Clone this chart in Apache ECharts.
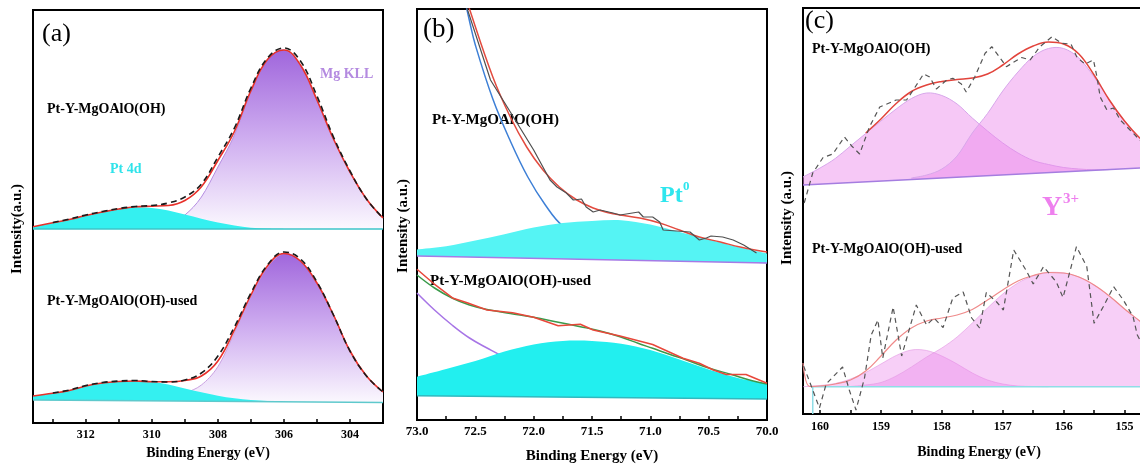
<!DOCTYPE html>
<html>
<head>
<meta charset="utf-8">
<script src="https://cdn.jsdelivr.net/npm/echarts@6/dist/echarts.min.js"></script>
<style>html,body{margin:0;padding:0;background:#fff}#chart{width:1140px;height:468px}</style>
</head>
<body>
<div id="chart"></div>
<script>
var serif = '"Liberation Serif", "Times New Roman", serif';

// (a) Pt 4d / Mg KLL  -- intensities in a.u. (stacked offset)
var aX = [313.6, 313, 312.5, 312, 311.5, 311, 310.5, 310, 309.5, 309, 308.5, 308, 307.5, 307, 306.5, 306, 305.5, 305, 304.5, 304, 303.5, 303];
var aTopPt4d = [196.3, 200.3, 203.5, 207.5, 211, 214, 215.7, 215, 212.5, 208.5, 204.3, 200.5, 197.5, 195.3, 194.4, 194, null, null, null, null, null, null];
var aTopMgKLL = [null, null, null, null, null, null, 194.5, 195.5, 199, 208, 226, 256, 288, 331, 363, 373, 358, 323, 284, 251, 224, 205];
var aTopFit = [196.3, 200.3, 203.5, 207.5, 211, 214, 216.2, 216.8, 217.5, 222.5, 236.3, 262.5, 291.5, 332.3, 363.4, 373, 358, 323, 284, 251, 224, 205];
var aTopRaw = [null, 200.5, 204, 208, 211.5, 214.5, 216.5, 217.5, 220, 226, 239, 266, 295, 335, 365, 375, 362, 327, 286, 252, 224, 205];
var aTopBase = [194, 194];
var aBotPt4d = [27, 29.7, 32.5, 37, 40, 41.5, 42, 41, 38.5, 34.5, 30.8, 27.3, 24.7, 23, 22, 21.5, null, null, null, null, null, null];
var aBotMgKLL = [null, null, null, null, null, null, null, 22.5, 25, 30, 38, 56.4, 90, 126.7, 156, 169.5, 162, 140, 108, 72, 47, 31];
var aBotFit = [27, 29.7, 32.5, 37, 40, 41.5, 42, 41.3, 41.3, 42.5, 47, 62, 93, 128, 157, 169.5, 162, 140, 108, 72, 47, 31];
var aBotRaw = [null, 30, 33, 37.5, 40.5, 42, 42.5, 41.5, 41, 43, 50, 67, 96, 130, 158, 171, 164, 141, 108, 72, 47, 31];
var aBotBase = [23, 20.5];

// (b) Pt 4f region
var bX = [73.0, 72.75, 72.5, 72.25, 72.0, 71.75, 71.5, 71.25, 71.0, 70.75, 70.5, 70.25, 70.0];
var bTopPt0 = [170.5, 173.7, 179.5, 185.7, 192.5, 197, 199, 199.8, 195.5, 188, 180.5, 173, 166.5];
var bTopBase = [164, 157];
var bTopBgX = [72.62, 72.55, 72.5, 72.35, 72.2, 72.05, 71.9, 71.75, 71.5, 71.25, 71.0, 70.5, 70.0];
var bTopBgY = [436, 399, 375, 321, 279, 243, 215, 194, 177, 168, 163, 159.5, 157.5];
var bTopFitX = [72.65, 72.55, 72.35, 72.2, 72.06, 71.92, 71.78, 71.63, 71.49, 71.35, 71.26, 71.09, 70.92, 70.75, 70.58, 70.4, 70.23, 70.0];
var bTopFitY = [448, 411, 343, 303, 273, 250, 233, 220, 212, 207, 205, 202, 197, 190, 183, 178, 173, 168];
var bTopRawX = [72.63, 72.58, 72.37, 72.2, 72.0, 71.86, 71.8, 71.72, 71.66, 71.59, 71.55, 71.49, 71.43, 71.32, 71.26, 71.1, 71.06, 70.98, 70.92, 70.89, 70.66, 70.63, 70.58, 70.52, 70.48, 70.38, 70.29, 70.2, 70.09];
var bTopRawY = [450, 415, 340, 308, 270, 240, 233, 227, 220, 221, 213, 208, 210, 207, 205, 208, 203, 203, 198, 190, 188, 185, 180, 182, 184, 183, 180, 175, 167];
var bBotPt0 = [43.3, 51, 59, 68.5, 75.5, 79, 79, 76.3, 70, 60.5, 50.5, 42, 36.3];
var bBotBase = [24.3, 21];
var bBotBgX = [73.0, 72.85, 72.7, 72.55, 72.4, 72.25, 72.0, 71.5, 71.0, 70.5, 70.0];
var bBotBgY = [127, 110, 95, 82, 72, 63, 52, 38, 30, 25, 22];
var bBotFitX = [73.0, 72.85, 72.7, 72.55, 72.4, 72.2, 72.0, 71.8, 71.6, 71.43, 71.26, 71.1, 70.98, 70.83, 70.69, 70.5, 70.29, 70.15, 70.0];
var bBotFitY = [145, 132, 122, 115, 110.5, 106.5, 102.7, 98, 93.3, 89, 83.3, 76.5, 71.7, 65.5, 60, 52, 45, 40, 36];
var bBotRawX = [73.0, 72.86, 72.69, 72.57, 72.4, 72.18, 72.0, 71.79, 71.6, 71.49, 71.26, 70.98, 70.72, 70.58, 70.46, 70.35, 70.18, 70.0];
var bBotRawY = [150.7, 136.7, 121.7, 117.3, 110, 107.3, 102.7, 94.3, 95.7, 90, 84, 75.5, 61.7, 56.7, 50, 45.5, 45.5, 36.7];

// (c) Y 3d region
var cX = [160.28, 160, 159.75, 159.5, 159.25, 159, 158.75, 158.5, 158.25, 158, 157.75, 157.5, 157.25, 157, 156.75, 156.5, 156.25, 156, 155.75, 155.5, 155.25, 155, 154.75, 154.5];
var cTopY1 = [237, 246, 255.5, 268, 280.5, 293, 305, 315.5, 321, 318.5, 310, 296, 283, 271, 261, 253.5, 249.5, 246.5, 245, 244.2, 244.4, null, null, null];
var cTopY2 = [null, null, null, null, null, null, null, 236, 239, 245, 258, 281, 300.5, 323, 342, 357.5, 365.5, 365.5, 356, 337, 314, 293, 276, 263];
var cTopFit = [null, null, null, null, 281, 295, 310.5, 322.5, 329, 332.5, 334.5, 336, 340, 349, 360, 368, 372, 370, 360, 339, 314, 293, 276, 263];
var cTopBaseX = [160.28, 154.5];
var cTopBaseY = [229, 246.7];
var cTopRawX = [160.26, 160.12, 159.95, 159.79, 159.6, 159.48, 159.35, 159.19, 159.02, 158.75, 158.58, 158.47, 158.3, 158.2, 158.09, 157.92, 157.82, 157.68, 157.6, 157.46, 157.29, 157.18, 157.05, 156.94, 156.83, 156.69, 156.55, 156.39, 156.19, 156.03, 155.88, 155.78, 155.65, 155.51, 155.45, 155.4, 155.29, 155.18, 155.07, 154.91, 154.75, 154.58];
var cTopRawY = [211, 241, 256.5, 260, 277, 268, 260, 287, 307, 314, 314, 324, 340, 337, 325, 334, 335.7, 330, 322, 337, 360.7, 367.3, 356.5, 347.3, 351.5, 356.5, 354, 367.3, 377.3, 370.7, 370, 356.5, 350, 354, 336, 317, 304, 306, 294, 284, 274, 266];
var cBotY1 = [27.3, 28.5, 30.5, 35, 41.5, 50, 58.5, 64, 63.5, 58, 50, 41, 34, 30, 28, 27.5, 27.3, null, null, null, null, null, null, null];
var cBotY2 = [null, null, null, 27.5, 29, 31.5, 38, 47, 57, 66, 77, 91, 106, 120, 131, 138, 141.5, 141, 137, 129, 118, 105, 93, 81];
var cBotBaseX = [160.12, 160.12, 154.5];
var cBotBaseY = [0, 27.3, 27.3];
var cBotFitX = [160.28, 160.17, 160, 159.75, 159.5, 159.25, 159, 158.75, 158.5, 158.25, 158, 157.75, 157.5, 157.25, 157, 156.75, 156.5, 156.25, 156, 155.75, 155.5, 155.25, 155, 154.75, 154.5];
var cBotFitY = [51, 27.5, 28, 30, 34, 43, 58, 74, 86, 93, 96, 99, 104.5, 114, 124, 133, 138.5, 141.5, 141, 137, 129, 118, 105, 93, 81];
var cBotRawX = [160.27, 160.12, 160.01, 159.9, 159.63, 159.52, 159.41, 159.27, 159.16, 159.05, 158.97, 158.8, 158.66, 158.42, 158.25, 158.13, 157.98, 157.82, 157.65, 157.51, 157.38, 157.27, 157.1, 156.99, 156.82, 156.61, 156.5, 156.33, 156.12, 156.01, 155.79, 155.62, 155.5, 155.35, 155.18, 155.02, 154.86, 154.79, 154.66];
var cBotRawY = [48, 24, 6, 30, 47, 24, 4, 36, 79, 94, 56, 107, 58, 109, 89, 96, 86.5, 116, 122, 96, 86, 121.5, 112, 104, 164, 143, 130, 147.3, 132, 116.5, 167.3, 147.3, 90.7, 107.3, 127.3, 114, 97.3, 79, 64];

function pairs(xs, ys) {
  var out = [];
  for (var i = 0; i < xs.length; i++) if (ys[i] != null) out.push([xs[i], ys[i]]);
  return out;
}
function fx(p) { return p[0].toFixed(2) + ',' + p[1].toFixed(2); }
// catmull-rom through the projected points
function curvePath(p) {
  var d = 'M' + fx(p[0]);
  for (var i = 0; i < p.length - 1; i++) {
    var p0 = p[i - 1] || p[i], p1 = p[i], p2 = p[i + 1], p3 = p[i + 2] || p2;
    d += 'C' + fx([p1[0] + (p2[0] - p0[0]) / 6, p1[1] + (p2[1] - p0[1]) / 6]) + ' ' +
      fx([p2[0] - (p3[0] - p1[0]) / 6, p2[1] - (p3[1] - p1[1]) / 6]) + ' ' + fx(p2);
  }
  return d;
}
// fitted component: area between the peak curve and its straight background
function band(k, xs, ys, base, fill, stroke) {
  var pts = pairs(xs, ys);
  return {
    type: 'custom', xAxisIndex: k, yAxisIndex: k, silent: true, clip: true, z: 2,
    data: pts,
    renderItem: function (params, api) {
      if (params.dataIndex !== 0) return;
      var p = pts.map(function (d) { return api.coord(d); });
      var b0 = api.coord([pts[0][0], base[0]]);
      var b1 = api.coord([pts[pts.length - 1][0], base[1]]);
      var top = curvePath(p);
      var kids = [{ type: 'path', shape: { pathData: top + 'L' + fx(b1) + 'L' + fx(b0) + 'Z' }, style: { fill: fill, stroke: 'none' } }];
      if (stroke) kids.push({ type: 'path', shape: { pathData: top }, style: { fill: 'none', stroke: stroke, lineWidth: 1 } });
      return { type: 'group', children: kids };
    }
  };
}
// z 1: background curves that pass under a filled peak; z 3: everything drawn over the fills
function line(k, data, color, width, smooth, dash, z) {
  return {
    type: 'line', xAxisIndex: k, yAxisIndex: k, data: data, symbol: 'none', silent: true,
    smooth: smooth || false, z: z || 3,
    lineStyle: { color: color, width: width, type: dash || 'solid' }
  };
}
function purpleGrad() {
  return new echarts.graphic.LinearGradient(0, 0, 0, 1, [
    { offset: 0, color: '#a066dc' }, { offset: 0.5, color: '#cfaef0' }, { offset: 1, color: '#fbf8fe' }
  ]);
}
function xAxis(k, min, max, step, fmt, fs, margin, nameGap, nameFs) {
  return {
    type: 'value', gridIndex: k, inverse: true, min: min, max: max, interval: step,
    axisLine: { lineStyle: { color: '#000', width: 2 } },
    axisTick: { inside: true, length: 4, lineStyle: { color: '#000', width: 1.5 } },
    splitLine: { show: false },
    axisLabel: { formatter: fmt, color: '#000', fontFamily: serif, fontWeight: 'bold', fontSize: fs, margin: margin },
    name: 'Binding Energy (eV)', nameLocation: 'middle', nameGap: nameGap,
    nameTextStyle: { color: '#000', fontFamily: serif, fontWeight: 'bold', fontSize: nameFs }
  };
}
function txt(x, y, text, size, color, bold, rot) {
  var font = (bold ? 'bold ' : '') + size + 'px ' + serif;
  return {
    type: 'text', x: x, y: y, z: 1, rotation: rot || 0,
    style: { text: text, font: font, fill: color || '#000', textAlign: rot ? 'center' : 'left', textVerticalAlign: 'middle', align: rot ? 'center' : 'left', verticalAlign: 'middle' }
  };
}

var pink = 'rgba(235,134,235,0.45)';
var pinkLow = 'rgba(235,134,235,0.40)';

var option = {
  animation: false,
  grid: [
    { left: 33, width: 350, top: 10, height: 413, outerBoundsMode: 'none', show: true, borderColor: '#000', borderWidth: 2 },
    { left: 417, width: 350, top: 9, height: 411, outerBoundsMode: 'none', show: true, borderColor: '#000', borderWidth: 2 },
    { left: 803, width: 352, top: 8, height: 406, outerBoundsMode: 'none', show: true, borderColor: '#000', borderWidth: 2 }
  ],
  xAxis: [
    xAxis(0, 303, 313.6, 1, function (v) { return Math.abs(v % 2) < 1e-6 ? String(v) : ''; }, 12, 6, 20, 14),
    xAxis(1, 70, 73, 0.25, function (v) { return Math.round(v * 4) % 2 === 0 ? v.toFixed(1) : ''; }, 13, 5, 29, 15),
    xAxis(2, 154.5, 160.28, 0.5, function (v) { return Math.abs(v - Math.round(v)) < 1e-6 ? String(Math.round(v)) : ''; }, 12, 7, 31, 14)
  ],
  yAxis: [413, 411, 406].map(function (h, k) {
    return { type: 'value', gridIndex: k, min: 0, max: h, show: false };
  }),
  series: [
    // (a) top
    band(0, aX, aTopMgKLL, aTopBase, purpleGrad(), '#b48ce0'),
    band(0, aX, aTopPt4d, aTopBase, '#34f0f0', null),
    line(0, [[313.6, aTopBase[0]], [303, aTopBase[1]]], '#3cc4c8', 1.5),
    line(0, pairs(aX, aTopFit), '#e8302a', 1.6, 0.4),
    line(0, pairs(aX, aTopRaw), '#1a1a1a', 1.6, 0.4, [6, 4]),
    // (a) bottom
    band(0, aX, aBotMgKLL, [22.2, aBotBase[1]], purpleGrad(), '#c9a0e0'),
    band(0, aX, aBotPt4d, [aBotBase[0], 21.2], '#34f0f0', null),
    line(0, [[313.6, aBotBase[0]], [303, aBotBase[1]]], '#5ec9cc', 1.5),
    line(0, pairs(aX, aBotFit), '#e8302a', 1.6, 0.4),
    line(0, pairs(aX, aBotRaw), '#1a1a1a', 1.6, 0.4, [6, 4]),
    // (b) top
    line(1, pairs(bTopBgX, bTopBgY), '#3d7fd6', 1.5, 0.4, null, 1),
    band(1, bX, bTopPt0, bTopBase, '#55f4f4', null),
    line(1, [[73, bTopBase[0]], [70, bTopBase[1]]], '#a67ae6', 1.5),
    line(1, pairs(bTopFitX, bTopFitY), '#e34b3f', 1.5, 0.4),
    line(1, pairs(bTopRawX, bTopRawY), '#505050', 1.2),
    // (b) bottom
    line(1, pairs(bBotBgX, bBotBgY), '#a775e6', 1.5, 0.4, null, 1),
    band(1, bX, bBotPt0, bBotBase, '#22efef', null),
    line(1, [[73, bBotBase[0]], [70, bBotBase[1]]], '#31b9bf', 1.5),
    line(1, pairs(bBotFitX, bBotFitY), '#3a9a4a', 1.5, 0.4),
    line(1, pairs(bBotRawX, bBotRawY), '#e8473a', 1.5),
    // (c) top
    band(2, cX, cTopY1, [229, 244.4], pink, '#d7a6ea'),
    band(2, cX, cTopY2, [234.5, 246.7], pink, '#d7a6ea'),
    line(2, pairs(cTopBaseX, cTopBaseY), '#a57de0', 1.5),
    line(2, pairs(cX, cTopFit), '#e2443c', 1.5, 0.4),
    line(2, pairs(cTopRawX, cTopRawY), '#555', 1.2, false, [5, 4]),
    // (c) bottom
    band(2, cX, cBotY1, [27.3, 27.3], pinkLow, 'rgba(225,150,225,0.6)'),
    band(2, cX, cBotY2, [27.3, 27.3], pinkLow, 'rgba(225,150,225,0.6)'),
    line(2, pairs(cBotBaseX, cBotBaseY), '#8fdde6', 1.5),
    line(2, pairs(cBotFitX, cBotFitY), '#ef8a8a', 1.2, 0.4),
    line(2, pairs(cBotRawX, cBotRawY), '#555', 1.2, false, [5, 4])
  ],
  graphic: [
    txt(42, 34, '(a)', 26, '#000', false),
    txt(47, 109, 'Pt-Y-MgOAlO(OH)', 14, '#000', true),
    txt(320, 74, 'Mg KLL', 14, '#b48ae0', true),
    txt(110, 169, 'Pt 4d', 14, '#2fe3ea', true),
    txt(47, 301, 'Pt-Y-MgOAlO(OH)-used', 14, '#000', true),
    txt(17, 229, 'Intensity(a.u.)', 15, '#000', true, Math.PI / 2),
    txt(423, 30, '(b)', 27, '#000', false),
    txt(432, 120, 'Pt-Y-MgOAlO(OH)', 15, '#000', true),
    txt(430, 281, 'Pt-Y-MgOAlO(OH)-used', 15, '#000', true),
    txt(660, 196, 'Pt', 24, '#2ee6ee', true),
    txt(683, 187, '0', 13, '#2ee6ee', true),
    txt(403, 226, 'Intensity (a.u.)', 15, '#000', true, Math.PI / 2),
    txt(805, 21, '(c)', 26, '#000', false),
    txt(812, 49, 'Pt-Y-MgOAlO(OH)', 14, '#000', true),
    txt(812, 249, 'Pt-Y-MgOAlO(OH)-used', 14, '#000', true),
    txt(1042, 208, 'Y', 28, '#ee80ee', true),
    txt(1063, 199, '3+', 15, '#ee80ee', true),
    txt(787, 218, 'Intensity (a.u.)', 15, '#000', true, Math.PI / 2)
  ]
};

var myChart = echarts.init(document.getElementById('chart'));
myChart.setOption(option);
</script>
</body>
</html>
